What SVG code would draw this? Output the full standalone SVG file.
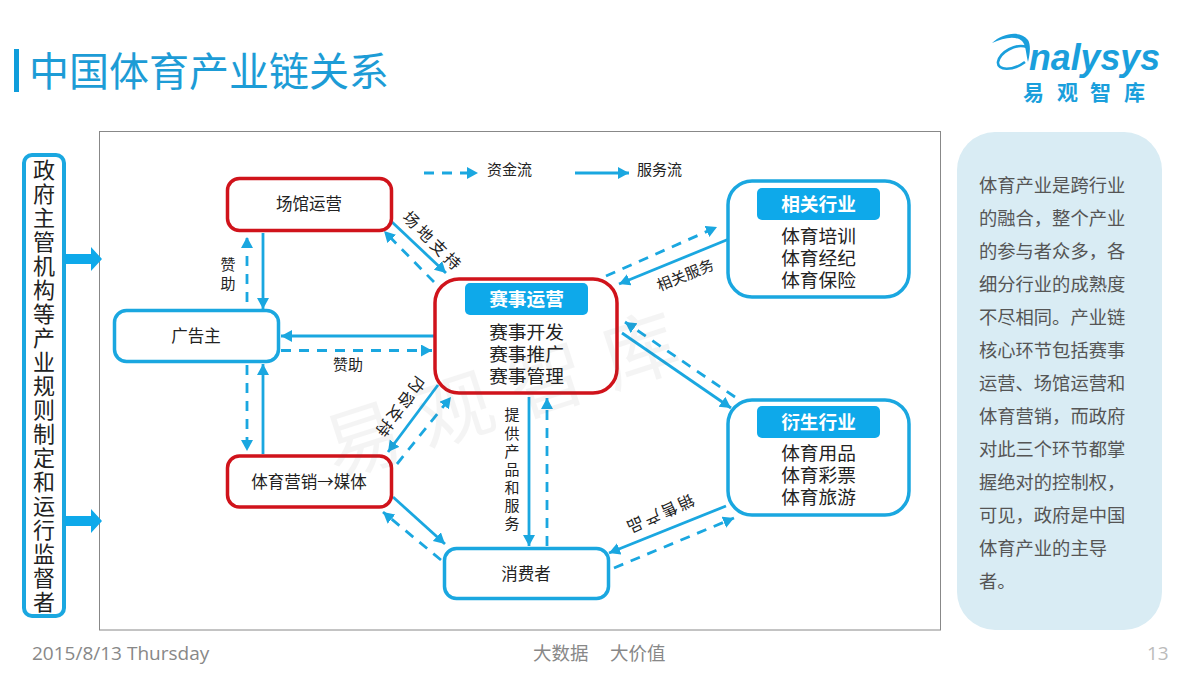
<svg xmlns="http://www.w3.org/2000/svg" width="1200" height="675" viewBox="0 0 1200 675">
<style>
text{font-family:"Noto Sans CJK SC","Noto Sans",sans-serif;fill:#222}
.box{fill:#fff;stroke-width:3.5}
.r{stroke:#d0131b}
.b{stroke:#1aa7e0}
.pill{fill:#0ea9ea}
.ph{font-size:18.700px;font-weight:700;fill:#fff;text-anchor:middle;dominant-baseline:central}
.t{font-size:18.700px;text-anchor:middle}
.n{font-size:16.500px;text-anchor:middle;dominant-baseline:central}
.l{font-size:15px;text-anchor:middle;dominant-baseline:central}
.rot{font-size:16px}
.c{fill:none;stroke:#1aa7e0;stroke-width:2.800;marker-end:url(#a)}
.d{stroke-dasharray:10 8}
.side{font-size:18.300px;fill:#555}
.foot{fill:#888}
.big{fill:#0ea9ea}
</style>
<defs>
<marker id="a" markerUnits="userSpaceOnUse" markerWidth="13" markerHeight="13" refX="11" refY="6" orient="auto"><path d="M0 0L11 6L0 12Z" fill="#1aa7e0"/></marker>
</defs>
<rect width="1200" height="675" fill="#fff"/>
<g id="title">
<rect x="14" y="49" width="5" height="43" fill="#0f9ddb"/>
<text x="29" y="86" font-size="40" style="fill:#1d9cd6;font-weight:400">中国体育产业链关系</text>
</g>
<g id="logo">
<path d="M992 43C1003 33 1020 30 1028 40C1031 45 1030 54 1028 62C1026 54 1026 45 1022 41C1015 35 1003 38 992 43Z" fill="#1a9fdc"/>
<path d="M1027 47C1016 43 1000 52 998 62C997 71 1013 71 1025 62" fill="none" stroke="#1a9fdc" stroke-width="2.600"/>
<text x="1029" y="70" font-size="36" style="font-family:'Liberation Sans',sans-serif;font-style:italic;font-weight:700;fill:#1a9fdc" textLength="131" lengthAdjust="spacingAndGlyphs">nalysys</text>
<text x="1023 1057 1090 1124" y="100" font-size="21" style="font-weight:700;fill:#1a9fdc">易观智库</text>
</g>
<rect id="frame" x="99.500" y="131.500" width="841" height="498.500" fill="#fff" stroke="#888" stroke-width="1"/>
<g id="gov">
<rect x="24" y="155" width="40" height="461" rx="8" fill="#fff" stroke="#1aa7e0" stroke-width="4"/>
<text x="44 44 44 44 44 44 44 44 44 44 44 44 44 44 44 44 44 44 44" y="178 202 226 250 274 298 322 346 370 394 418 442 466 490 514 538 562 586 610" font-size="22" text-anchor="middle">政府主管机构等产业规则制定和运行监督者</text>
<path d="M65 254H91V247L102 259L91 271V264H65Z" class="big"/>
<path d="M65 516H91V509L102 521L91 533V526H65Z" class="big"/>
</g>
<g id="connectors">
<path class="c" d="M263 233V309"/>
<path class="c d" d="M247 302V237"/>
<path class="c" d="M392 222L446 273"/>
<path class="c d" d="M434 282L384 231"/>
<path class="c" d="M434 336H281"/>
<path class="c d" d="M281 350.500H432"/>
<path class="c" d="M263 454V364"/>
<path class="c d" d="M247 365V451"/>
<path class="c" d="M438 385L388 452"/>
<path class="c d" d="M397 464L451 397"/>
<path class="c" d="M529 397V546"/>
<path class="c d" d="M547 546V398"/>
<path class="c" d="M393 497L445 544"/>
<path class="c d" d="M441 560L383 512"/>
<path class="c" d="M726 506L609 553"/>
<path class="c d" d="M614 568L734 518"/>
<path class="c" d="M622 333L731 408"/>
<path class="c d" d="M735 397L625 322"/>
<path class="c" d="M729 239L619 284"/>
<path class="c d" d="M606 276L717 227"/>
<path class="c d" d="M424 173H478"/>
<path class="c" d="M575 173H629"/>
</g>
<g id="legend">
<text class="l" x="509.500" y="168">资金流</text>
<text class="l" x="659.500" y="168">服务流</text>
</g>
<g id="labels">
<text class="l" x="228 228" y="270 289" style="dominant-baseline:auto">赞助</text>
<text class="l" x="348" y="363.500">赞助</text>
<text class="l" x="512 512 512 512 512 512 512" y="420 439 457 475 493 511 529" style="dominant-baseline:auto">提供产品和服务</text>
<text class="l rot" transform="translate(434 241) rotate(45)" letter-spacing="3.500">场地支持</text>
<text class="l rot" transform="translate(401 408) rotate(127)" letter-spacing="2">内容支持</text>
<text class="l rot" transform="translate(660 515) rotate(156)" letter-spacing="2.500">销售产品</text>
<text class="l" transform="translate(685 274) rotate(-22)">相关服务</text>
</g>
<g id="n-venue"><rect class="box r" x="227.500" y="178.500" width="164" height="52" rx="12"/><text class="n" x="309" y="203">场馆运营</text></g>
<g id="n-ad"><rect class="box b" x="114.500" y="310.500" width="164" height="51" rx="12"/><text class="n" x="196" y="334.500">广告主</text></g>
<g id="n-media"><rect class="box r" x="227.500" y="456" width="164" height="51" rx="12"/><text class="n" x="309" y="481">体育营销→媒体</text></g>
<g id="n-consumer"><rect class="box b" x="444.500" y="548.500" width="164" height="50" rx="12"/><text class="n" x="526" y="573">消费者</text></g>
<g id="n-event">
<rect class="box r" x="435" y="279" width="182" height="114" rx="24"/>
<rect class="pill" x="465" y="283" width="123" height="32" rx="5"/><text class="ph" x="526.500" y="297.500">赛事运营</text>
<text class="t" x="526.500" y="338.500">赛事开发</text><text class="t" x="526.500" y="360.500">赛事推广</text><text class="t" x="526.500" y="382.500">赛事管理</text>
</g>
<g id="n-related">
<rect class="box b" x="728" y="181" width="181" height="116" rx="24"/>
<rect class="pill" x="757" y="188" width="123" height="32" rx="5"/><text class="ph" x="818.500" y="202.500">相关行业</text>
<text class="t" x="818.500" y="242.500">体育培训</text><text class="t" x="818.500" y="264.500">体育经纪</text><text class="t" x="818.500" y="286.500">体育保险</text>
</g>
<g id="n-derived">
<rect class="box b" x="728" y="400" width="181" height="115" rx="24"/>
<rect class="pill" x="757" y="406" width="123" height="32" rx="5"/><text class="ph" x="818.500" y="420.500">衍生行业</text>
<text class="t" x="818.500" y="459.500">体育用品</text><text class="t" x="818.500" y="481.500">体育彩票</text><text class="t" x="818.500" y="503.500">体育旅游</text>
</g>
<g id="watermark" style="opacity:.06">
<text x="0" y="0" transform="translate(335 478) rotate(-18)" font-size="76" letter-spacing="21" style="fill:#555">易观智库</text>
</g>
<g id="note">
<rect x="957" y="132" width="205" height="498" rx="38" fill="#d9ecf4"/>
<text class="side" x="979" y="191.500">体育产业是跨行业</text>
<text class="side" x="979" y="224.500">的融合，整个产业</text>
<text class="side" x="979" y="257.500">的参与者众多，各</text>
<text class="side" x="979" y="290.500">细分行业的成熟度</text>
<text class="side" x="979" y="323.500">不尽相同。产业链</text>
<text class="side" x="979" y="356.500">核心环节包括赛事</text>
<text class="side" x="979" y="389.500">运营、场馆运营和</text>
<text class="side" x="979" y="422.500">体育营销，而政府</text>
<text class="side" x="979" y="455.500">对此三个环节都掌</text>
<text class="side" x="979" y="488.500">握绝对的控制权，</text>
<text class="side" x="979" y="521.500">可见，政府是中国</text>
<text class="side" x="979" y="554.500">体育产业的主导</text>
<text class="side" x="979" y="587.500">者。</text>
</g>
<g id="footer">
<text class="foot" x="32" y="660" font-size="19" style="font-family:'Open Sans',sans-serif">2015/8/13 Thursday</text>
<text class="foot" x="533" y="660" font-size="18.500">大数据</text>
<text class="foot" x="610" y="660" font-size="18.500">大价值</text>
<text x="1147" y="660" font-size="19" style="font-family:'Open Sans',sans-serif;fill:#bbb">13</text>
</g>
</svg>
